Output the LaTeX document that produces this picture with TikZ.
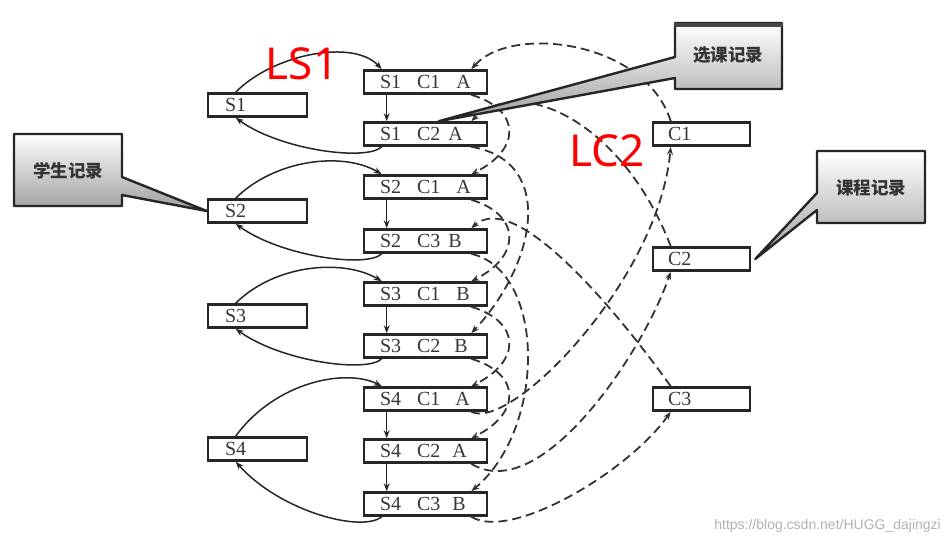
\documentclass[tikz,border=0pt]{standalone}
\usepackage{fontspec}
\setmainfont{Liberation Serif}
\newfontfamily\cjkfont{Noto Sans CJK SC}
\newfontfamily\redfont{Noto Sans}
\newfontfamily\wmfont{Liberation Sans}
\usetikzlibrary{calc,arrows.meta}
\newcommand{\mtxt}[1]{\makebox[91pt][l]{#1}}
\newcommand{\stxt}[1]{\makebox[65pt][l]{#1}}
\newcommand{\ctxt}[1]{\makebox[67pt][l]{#1}}
\tikzset{
  rec/.style={draw=black!85, line width=2.6pt, fill=white, minimum height=23pt,
    inner ysep=0pt, font=\fontsize{20}{22}\selectfont, text=black!78},
  midbox/.style={rec, inner xsep=16pt},
  sbox/.style={rec, inner xsep=17pt},
  cbox/.style={rec, inner xsep=15pt},
  solidlink/.style={draw=black!85, line width=1.5pt, -{Stealth[length=8pt,width=6pt]}},
  dashlink/.style={draw=black!80, line width=1.8pt, dash pattern=on 9pt off 5pt,
    -{Stealth[length=8pt,width=6pt]}},
  callout/.style={draw=black!85, line width=2.4pt, top color=white, bottom color=black!38,
    line join=round},
  ctext/.style={font=\cjkfont\bfseries\fontsize{17.5}{20}\selectfont, text=black!80},
  redlabel/.style={font=\redfont\fontsize{44}{48}\selectfont, text=red, inner sep=0pt},
  wm/.style={font=\wmfont\fontsize{14}{16}\selectfont, text=black!30, inner sep=0pt}
}
\begin{document}
\begin{tikzpicture}[x=1pt, y=-1pt]
\useasboundingbox[fill=white] (0,0) rectangle (948,546);

% middle column: course-selection records
\node[midbox] (m11) at (425.5,82)  {\mtxt{S1\hspace{16pt}C1\hspace{16pt}A}};
\node[midbox] (m12) at (425.5,134) {\mtxt{S1\hspace{16pt}C2\hspace{8pt}A}};
\node[midbox] (m21) at (425.5,187) {\mtxt{S2\hspace{16pt}C1\hspace{16pt}A}};
\node[midbox] (m23) at (425.5,241) {\mtxt{S2\hspace{16pt}C3\hspace{8pt}B}};
\node[midbox] (m31) at (425.5,294) {\mtxt{S3\hspace{16pt}C1\hspace{16pt}B}};
\node[midbox] (m32) at (425.5,346) {\mtxt{S3\hspace{16pt}C2\hspace{14pt}B}};
\node[midbox] (m41) at (425.5,399) {\mtxt{S4\hspace{16pt}C1\hspace{15pt}A}};
\node[midbox] (m42) at (425.5,451) {\mtxt{S4\hspace{16pt}C2\hspace{12pt}A}};
\node[midbox] (m43) at (425.5,504) {\mtxt{S4\hspace{16pt}C3\hspace{12pt}B}};

% students
\node[sbox] (s1) at (257.5,105) {\stxt{S1}};
\node[sbox] (s2) at (257.5,211) {\stxt{S2}};
\node[sbox] (s3) at (257.5,316) {\stxt{S3}};
\node[sbox] (s4) at (257.5,449) {\stxt{S4}};

% courses
\node[cbox] (c1) at (701.5,134) {\ctxt{C1}};
\node[cbox] (c2) at (701.5,259) {\ctxt{C2}};
\node[cbox] (c3) at (701.5,399) {\ctxt{C3}};

% vertical links within a student
\foreach \a/\b in {m11/m12, m21/m23, m31/m32, m41/m42, m42/m43}{
  \draw[solidlink] ($(\a.south west)+(24,0)$) -- ($(\b.north west)+(24,0)$);
}

% student rings (solid)
\draw[solidlink] ($(s1.north west)+(29,0)$) .. controls +(38,-38.5) and +(-28,-30.5) .. ($(m11.north west)+(19,0)$);
\draw[solidlink] ($(m12.south west)+(19,0)$) .. controls +(-15,14.5) and +(45,32.5) .. ($(s1.south west)+(29,0)$);
\draw[solidlink] ($(s2.north west)+(29,0)$) .. controls +(40,-39.5) and +(-38,-22.5) .. ($(m21.north west)+(19,0)$);
\draw[solidlink] ($(m23.south west)+(19,0)$) .. controls +(-15,14.5) and +(45,32.5) .. ($(s2.south west)+(29,0)$);
\draw[solidlink] ($(s3.north west)+(29,0)$) .. controls +(40,-39.5) and +(-38,-22.5) .. ($(m31.north west)+(19,0)$);
\draw[solidlink] ($(m32.south west)+(19,0)$) .. controls +(-15,14.5) and +(45,32.5) .. ($(s3.south west)+(29,0)$);
\draw[solidlink] ($(s4.north west)+(29,0)$) .. controls +(40,-55) and +(-35,-18) .. ($(m41.north west)+(19,0)$);
\draw[solidlink] ($(m43.south west)+(19,0)$) .. controls +(-20,16) and +(45,50) .. ($(s4.south west)+(29,0)$);

% course rings (dashed)
% C1
\draw[dashlink] ($(c1.north west)+(19,0)$) .. controls +(-25,-80.5) and +(40,-45.5) .. ($(m11.north east)+(-17,0)$);
\draw[dashlink] ($(m11.south east)+(-17,0)$) .. controls +(50,15) and +(50,-25) .. ($(m21.north east)+(-17,0)$);
\draw[dashlink] ($(m21.south east)+(-17,0)$) .. controls +(50,15) and +(50,-25) .. ($(m31.north east)+(-17,0)$);
\draw[dashlink] ($(m31.south east)+(-17,0)$) .. controls +(50,15) and +(50,-25) .. ($(m41.north east)+(-17,0)$);
\draw[dashlink] ($(m41.south east)+(-17,0)$) .. controls +(40,19.5) and +(-12,133.5) .. ($(c1.south west)+(19,0)$);
% C2
\draw[dashlink] ($(c2.north west)+(19,0)$) .. controls +(-47,-122.5) and +(50,-47.5) .. ($(m12.north east)+(-17,0)$);
\draw[dashlink] ($(m12.south east)+(-17,0)$) .. controls +(85,14.5) and +(65,-69.5) .. ($(m32.north east)+(-17,0)$);
\draw[dashlink] ($(m32.south east)+(-17,0)$) .. controls +(50,15) and +(50,-25) .. ($(m42.north east)+(-17,0)$);
\draw[dashlink] ($(m42.south east)+(-17,0)$) .. controls +(70,42.5) and +(-27,79.5) .. ($(c2.south west)+(19,0)$);
% C3
\draw[dashlink] ($(c3.north west)+(19,0)$) .. controls +(-50,-70) and +(45,-40) .. ($(m23.north east)+(-17,0)$);
\draw[dashlink] ($(m23.south east)+(-17,0)$) .. controls +(75,17.5) and +(75,-62.5) .. ($(m43.north east)+(-17,0)$);
\draw[dashlink] ($(m43.south east)+(-17,0)$) .. controls +(40,24.5) and +(-42,59.5) .. ($(c3.south west)+(19,0)$);

% callouts
\path[callout] (14,134) -- (122,134) -- (122,177) -- (s2.west) -- (122,195) -- (122,206) -- (14,206) -- cycle;
\node[ctext] (t1) at (68,171) {学生记录};

\path[callout] (675,23) -- (782,23) -- (782,89) -- (675,89) -- (675,78) -- ($(m12.north west)+(76,0)$) -- (675,57) -- cycle;
\draw[line width=4pt, black!72] (674,24.5) -- (783,24.5);
\node[ctext] (t2) at (728,55) {选课记录};

\path[callout] (817,151) -- (925,151) -- (925,223) -- (817,223) -- (817,210) -- ($(c2.east)+(4,0)$) -- (817,193) -- cycle;
\node[ctext] (t3) at (871,188) {课程记录};

% red labels
\node[redlabel] (ls1) at (302,64) {LS1};
\node[redlabel] (lc2) at (607,151) {LC2};

% watermark
\node[wm, anchor=east] (wmark) at (941,526) {https://blog.csdn.net/HUGG\_dajingzi};
\end{tikzpicture}
\end{document}
